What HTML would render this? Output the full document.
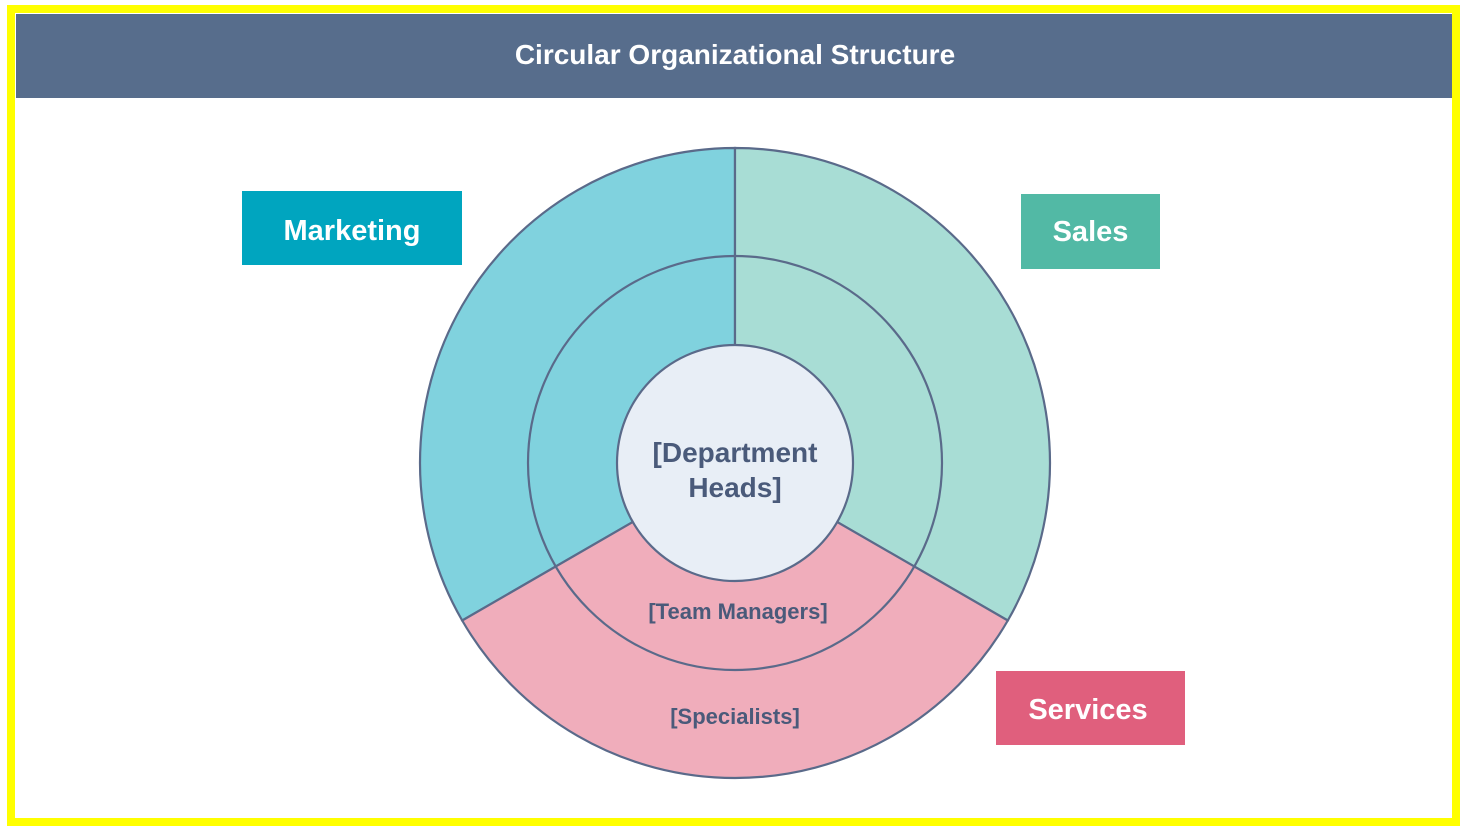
<!DOCTYPE html>
<html><head><meta charset="utf-8"><style>
html,body{margin:0;padding:0;background:#fff;width:1466px;height:827px;overflow:hidden}
svg{display:block}
text{font-family:"Liberation Sans",sans-serif}
</style></head><body>
<svg width="1466" height="827" viewBox="0 0 1466 827">
<rect x="0" y="0" width="1466" height="827" fill="#fff"/>
<rect x="11" y="9" width="1445" height="813" fill="none" stroke="#ffff00" stroke-width="8"/>
<rect x="16" y="14" width="1436" height="84" fill="#576d8c"/>
<text x="735" y="64" text-anchor="middle" font-size="28" font-weight="bold" fill="#fff">Circular Organizational Structure</text>

<g stroke="#5a6a8a" stroke-width="2.2">
<path d="M735,463 L735,148 A315,315 0 0 0 462.2,620.5 Z" fill="#80d2de"/>
<path d="M735,463 L735,148 A315,315 0 0 1 1007.8,620.5 Z" fill="#a8ddd5"/>
<path d="M735,463 L462.2,620.5 A315,315 0 0 0 1007.8,620.5 Z" fill="#f0adbb"/>
<circle cx="735" cy="463" r="207" fill="none"/>
<circle cx="735" cy="463" r="118" fill="#e8eef6"/>
</g>

<text x="735" y="462" text-anchor="middle" font-size="28" font-weight="bold" fill="#4a5a7a">[Department</text>
<text x="735" y="497" text-anchor="middle" font-size="28" font-weight="bold" fill="#4a5a7a">Heads]</text>
<text x="738" y="619" text-anchor="middle" font-size="22" font-weight="bold" fill="#4a5a7a">[Team Managers]</text>
<text x="735" y="724" text-anchor="middle" font-size="22" font-weight="bold" fill="#4a5a7a">[Specialists]</text>

<rect x="242" y="191" width="220" height="74" fill="#00a5bf"/>
<text x="352" y="240" text-anchor="middle" font-size="29" font-weight="bold" fill="#fff">Marketing</text>
<rect x="1021" y="194" width="139" height="75" fill="#52b9a5"/>
<text x="1090.5" y="241" text-anchor="middle" font-size="29" font-weight="bold" fill="#fff">Sales</text>
<rect x="996" y="671" width="189" height="74" fill="#e05f7d"/>
<text x="1088" y="719" text-anchor="middle" font-size="29" font-weight="bold" fill="#fff">Services</text>
</svg>
</body></html>
